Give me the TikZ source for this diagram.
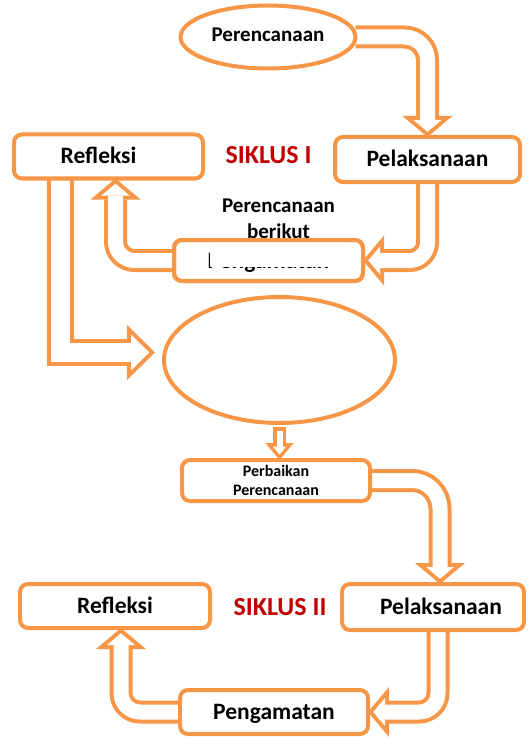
\documentclass[tikz,border=0pt]{standalone}
\usepackage{fontspec}
\setmainfont{Carlito}
\usetikzlibrary{arrows.meta, positioning, calc, shapes.geometric}
\definecolor{boxorange}{HTML}{F79646}
\definecolor{siklusred}{HTML}{C00000}
\pgfdeclarelayer{background}
\pgfsetlayers{background,main}
\tikzset{
  boxline/.style={draw=boxorange, line width=4pt, outer sep=0pt},
  box/.style={boxline, fill=white, rounded corners=8pt, minimum width=189pt, minimum height=44pt, font=\bfseries\fontsize{23.5}{28}\selectfont, text height=18.8pt, text depth=3.8pt},
  oval/.style={boxline, fill=white, ellipse, font=\bfseries\fontsize{21}{25}\selectfont, text height=15pt, text depth=5pt},
  siklus/.style={font=\bfseries\fontsize{26}{30}\selectfont, text=siklusred, anchor=base},
  % hollow block arrows: orange body, then white inside
  shaftout/.style={color=boxorange, line width=23pt, -{Triangle[width=50pt, length=21pt, line width=0pt]}},
  shaftin/.style={color=white, line width=15pt, shorten >=5.2pt, -{Triangle[width=28pt, length=11.8pt, line width=0pt]}},
  wideout/.style={color=boxorange, line width=27pt, -{Triangle[width=55pt, length=28pt, line width=0pt]}},
  widein/.style={color=white, line width=19pt, shorten >=5.7pt, -{Triangle[width=35.9pt, length=18.3pt, line width=0pt]}},
  smallout/.style={color=boxorange, line width=13pt, -{Triangle[width=28pt, length=17pt, line width=0pt]}},
  smallin/.style={color=white, line width=6pt, shorten >=5.5pt, shorten <=3.5pt, -{Triangle[width=13.2pt, length=8pt, line width=0pt]}}
}

\begin{document}
\begin{tikzpicture}[x=1pt, y=-1pt]
  \useasboundingbox (0,0) rectangle (528,738);

  % Siklus I
  \node[oval, minimum width=175pt, minimum height=63pt] (ell1) at (268,37) {Perencanaan};
  \node[box] (refl1) at (108.5,156.5) {Refleksi\hspace*{20pt}};
  \node[siklus] (siklus1) at (268.5,164) {SIKLUS I};
  \node[box, minimum width=185pt, minimum height=45pt] (pel1) at (427.5,159.5) {Pelaksanaan};
  \node[box, minimum height=41pt] (peng1) at (268.5,260.5) {Pengamatan};
  \node[font=\bfseries\fontsize{21}{26}\selectfont, align=center, fill=white, inner xsep=12pt, inner ysep=0pt, text depth=29pt, anchor=base] (berikut) at (278.5,238) {Perencanaan\\berikut};
  \draw[boxline, rounded corners=8pt] (peng1.south west) rectangle (peng1.north east);

  % Perbaikan
  \node[oval, minimum width=231pt, minimum height=126pt] (ell2) at (279.5,360) {};
  \node[box, minimum width=188pt, minimum height=41pt, font=\bfseries\fontsize{16}{19}\selectfont, align=center, text height=, text depth=] (perb) at (276,480.5) {Perbaikan\\Perencanaan};

  % Siklus II
  \node[box, minimum width=190pt] (refl2) at (115,606) {Refleksi};
  \node[siklus] (siklus2) at (280,615) {SIKLUS II};
  \node[box, minimum width=182pt, minimum height=46pt] (pel2) at (433,607) {\hspace*{16pt}Pelaksanaan};
  \node[box, minimum width=188pt] (peng2) at (274,712) {Pengamatan};

  \begin{pgfonlayer}{background}
    % Perencanaan -> Pelaksanaan
    \draw[shaftout, rounded corners=23pt] (ell1.east) -| (pel1.north);
    \draw[shaftin, rounded corners=23pt] (ell1.east) -| (pel1.north);
    % Pelaksanaan -> Pengamatan
    \draw[shaftout, rounded corners=18pt] (pel1.south) |- (peng1.east);
    \draw[shaftin, rounded corners=18pt] (pel1.south) |- (peng1.east);
    % Pengamatan -> Refleksi
    \draw[shaftout, rounded corners=19pt] (peng1.west) -| ([xshift=7pt]refl1.south);
    \draw[shaftin, rounded corners=19pt] (peng1.west) -| ([xshift=7pt]refl1.south);
    % Refleksi -> ellipse
    \draw[wideout] ([xshift=-48pt]refl1.south) |- ([xshift=-9pt, yshift=7.5pt]ell2.west);
    \draw[widein] ([xshift=-48pt]refl1.south) |- ([xshift=-9pt, yshift=7.5pt]ell2.west);
    % ellipse -> Perbaikan
    \draw[smallout] ([yshift=-4pt]ell2.south) -- (ell2.south |- perb.north);
    \draw[smallin] ([yshift=-4pt]ell2.south) -- (ell2.south |- perb.north);
    % Perbaikan -> Pelaksanaan
    \draw[shaftout, rounded corners=28pt] (perb.east) -| ([xshift=7pt]pel2.north);
    \draw[shaftin, rounded corners=28pt] (perb.east) -| ([xshift=7pt]pel2.north);
    % Pelaksanaan -> Pengamatan
    \draw[shaftout, rounded corners=19pt] ([xshift=5pt]pel2.south) |- (peng2.east);
    \draw[shaftin, rounded corners=19pt] ([xshift=5pt]pel2.south) |- (peng2.east);
    % Pengamatan -> Refleksi
    \draw[shaftout, rounded corners=19pt] (peng2.west) -| ([xshift=6pt]refl2.south);
    \draw[shaftin, rounded corners=19pt] (peng2.west) -| ([xshift=6pt]refl2.south);
  \end{pgfonlayer}
\end{tikzpicture}
\end{document}
